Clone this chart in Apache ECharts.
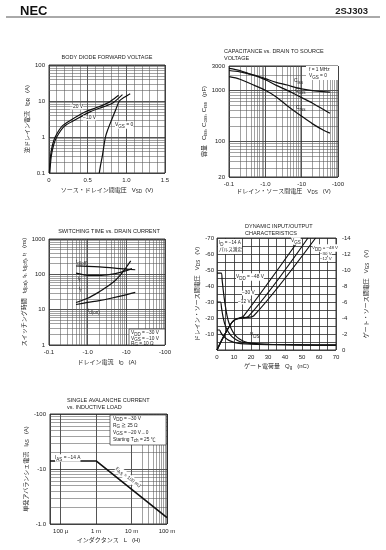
<!DOCTYPE html>
<html><head><meta charset="utf-8">
<script src="https://cdn.jsdelivr.net/npm/echarts@6/dist/echarts.min.js"></script>
<style>html,body{margin:0;padding:0;background:#fff}#c{width:386px;height:550px}</style>
</head><body><div id="c"></div>
<script>
// ---------- DATA ----------
// 1) Body diode forward voltage: [V_SD (V), I_DR (A)]
const diodeVgs20 = [[0.005,0.1],[0.02,0.3],[0.045,0.6],[0.08,1],[0.17,2],[0.29,3],[0.47,5],[0.6,6.4],[0.7,7.7],[0.78,9.3],[0.85,12],[0.9,14.5]];
const diodeVgs10 = [[0.01,0.1],[0.03,0.3],[0.06,0.6],[0.1,1],[0.2,2],[0.34,3],[0.53,5],[0.65,6.3],[0.75,7.5],[0.83,9],[0.9,12],[0.95,15]];
const diodeVgs0  = [[0.65,0.1],[0.67,0.18],[0.69,0.3],[0.73,1],[0.76,1.6],[0.81,3],[0.86,5.5],[0.91,10],[0.98,13],[1.05,16]];
const diodeXTicks = [0, 0.5, 1.0, 1.5];
// 2) Capacitance: [|V_DS| (V), C (pF)]
const capCiss = [[0.1,2450],[0.2,2300],[0.4,2050],[0.7,1850],[1,1700],[2,1430],[4,1270],[7,1130],[10,1070],[20,990],[40,940],[60,920]];
const capCoss = [[0.1,2700],[0.2,2450],[0.4,2050],[0.7,1800],[1,1620],[2,1250],[4,1000],[7,820],[10,720],[20,560],[40,420],[60,355]];
const capCrss = [[0.1,1850],[0.2,1650],[0.5,1250],[1,1000],[2,740],[4,500],[10,310],[20,220],[40,165],[60,145]];
// 3) Switching time: [|I_D| (A), t (ns)]
const swTdoff = [[0.5,172],[1,168],[2,162],[5,150],[10,140],[17,135]];
const swTf    = [[0.5,108],[0.8,97],[1.2,93],[2,93],[4,100],[7,113],[10,127],[14,145]];
const swTr    = [[0.5,16],[1,21],[2,32],[3,43],[5,65],[7,95],[9,135],[11,185],[13,240]];
const swTdon  = [[0.5,14],[1,16],[2,18],[4,21],[8,25],[17,31]];
// 4) Dynamic input/output: [Qg (nC), |V| (V)]
const vds48 = [[0,48],[2.5,48],[3,44],[3.6,38],[4.3,32],[5,27],[6,21],[7,17],[8.5,13],[10.5,9.5],[13,7],[16,5.3],[20,4.3],[30,3.6],[50,3.2],[70,3]];
const vds30 = [[0,30],[2,30],[2.7,26],[3.5,21],[4.5,16.5],[6,12.5],[8,9.3],[10,7.3],[13,5.5],[17,4.4],[22,3.8],[30,3.5],[50,3.2],[70,3]];
const vds12 = [[0,12.5],[1.5,12.5],[2.2,11],[3.5,9],[5,7.5],[7,6],[10,4.8],[14,4],[20,3.6],[30,3.4],[50,3.2],[70,3]];
const vgs12 = [[0,0],[3,1.3],[6,2.5],[9,3.5],[11,3.85],[13,4.0],[15.5,4.2],[49,14]];
const vgs30 = [[0,0],[3,1.3],[6,2.5],[9,3.5],[11,3.85],[14,4.0],[18.5,4.2],[53.5,14]];
const vgs48 = [[0,0],[3,1.3],[6,2.5],[9,3.5],[11,3.85],[17,4.05],[21.5,4.25],[58,14]];
// 5) Single avalanche current: [L (H), |I_AS| (A)]
const avalanche = [[5e-5,14],[1e-3,14],[0.1,1.3]];
const avalXTickText = {'-4':'100 µ','-3':'1 m','-2':'10 m','-1':'100 m'};

// ---------- STYLE ----------
const FONT = "'Liberation Sans','Noto Sans CJK JP',sans-serif";
const TXT = '#222';
const MINOR = {color:'#555', width:0.55};
const MAJOR = {color:'#2a2a2a', width:0.8};
const clean = v => parseFloat((+v).toPrecision(6));
const subRich = {s:{fontSize:4.5, fontFamily:FONT, color:TXT, verticalAlign:'bottom', padding:[3,0,0,0]}};

function minorLog(a,b){const o=[];for(let d=Math.floor(Math.log10(a))-1;d<=Math.ceil(Math.log10(b));d++){for(let k=2;k<=9;k++){const v=k*Math.pow(10,d);if(v>a*1.0001&&v<b*0.9999)o.push(v);}}return o;}

const grids = [
  {left:49, top:65, width:116, height:108},
  {left:229, top:66, width:109, height:111},
  {left:49, top:239, width:116, height:106},
  {left:217, top:238, width:119, height:112},
  {left:50, top:414, width:117, height:110}
].map(g=>Object.assign({show:true, borderColor:'#222', borderWidth:0.9, backgroundColor:'transparent'},g));

const lbl = (extra)=>Object.assign({fontSize:6, color:TXT, fontFamily:FONT, margin:4},extra||{});
const nameStyle = {fontSize:6, color:TXT, fontFamily:FONT, rich:subRich};
const baseAxis = {axisTick:{show:false}, axisLine:{show:false}, splitLine:{show:true, lineStyle:MAJOR}};

const xAxis = [
  Object.assign({}, baseAxis, {type:'value', gridIndex:0, min:0, max:1.5, interval:0.5,
    minorTick:{show:false, splitNumber:5}, minorSplitLine:{show:true, lineStyle:MINOR},
    axisLabel:lbl({formatter:v=>{v=clean(v);return diodeXTicks.includes(v)?(v===0?'0':v.toFixed(1)):'';}}),
    name:'ソース・ドレイン間電圧   V{s|SD}  (V)', nameLocation:'middle', nameGap:14, nameTextStyle:nameStyle}),
  Object.assign({}, baseAxis, {type:'log', logBase:10, gridIndex:1, min:0.1, max:100,
    axisLabel:lbl({formatter:v=>{v=clean(v);return '-'+(v===1?'1.0':v);}}),
    name:'ドレイン・ソース間電圧   V{s|DS}   (V)', nameLocation:'middle', nameGap:11, nameTextStyle:nameStyle}),
  Object.assign({}, baseAxis, {type:'log', logBase:10, gridIndex:2, min:0.1, max:100,
    axisLabel:lbl({formatter:v=>{v=clean(v);return '-'+(v===1?'1.0':v);}}),
    name:'ドレイン電流   I{s|D}   (A)', nameLocation:'middle', nameGap:14, nameTextStyle:nameStyle}),
  Object.assign({}, baseAxis, {type:'value', gridIndex:3, min:0, max:70, interval:10,
    minorTick:{show:false, splitNumber:2}, minorSplitLine:{show:true, lineStyle:MAJOR},
    axisLabel:lbl(),
    name:'ゲート電荷量   Q{s|g}   (nC)', nameLocation:'middle', nameGap:13, nameTextStyle:nameStyle}),
  Object.assign({}, baseAxis, {type:'log', logBase:10, gridIndex:4, min:5e-5, max:0.1,
    axisLabel:lbl({formatter:v=>{const e=Math.log10(v);return Math.abs(e-Math.round(e))<1e-6?(avalXTickText[String(Math.round(e))]||''):'';}}),
    name:'インダクタンス   L   (H)', nameLocation:'middle', nameGap:13, nameTextStyle:nameStyle})
];

const yAxis = [
  Object.assign({}, baseAxis, {type:'log', logBase:10, gridIndex:0, min:0.1, max:100,
    axisLabel:lbl({formatter:v=>String(clean(v))}),
    name:'逆ドレイン電流   I{s|DR}   (A)', nameLocation:'middle', nameRotate:90, nameGap:16, nameTextStyle:nameStyle}),
  Object.assign({}, baseAxis, {type:'log', logBase:10, gridIndex:1, min:20, max:3000,
    axisLabel:lbl({formatter:v=>String(Math.round(v))}),
    name:'容量   C{s|iss}, C{s|oss}, C{s|rss}   (pF)', nameLocation:'middle', nameRotate:90, nameGap:21, nameTextStyle:nameStyle}),
  Object.assign({}, baseAxis, {type:'log', logBase:10, gridIndex:2, min:1, max:1000,
    axisLabel:lbl({formatter:v=>String(Math.round(v))}),
    name:'スイッチング時間   t{s|d(on)}, t{s|r}, t{s|d(off)}, t{s|f}   (ns)', nameLocation:'middle', nameRotate:90, nameGap:16, nameTextStyle:nameStyle}),
  Object.assign({}, baseAxis, {type:'value', gridIndex:3, min:0, max:70, interval:10,
    minorTick:{show:false, splitNumber:2}, minorSplitLine:{show:true, lineStyle:MAJOR},
    axisLabel:lbl({showMinLabel:false, margin:3, formatter:v=>v===0?'':'-'+v}),
    name:'ドレイン・ソース間電圧   V{s|DS}   (V)', nameLocation:'middle', nameRotate:90, nameGap:12, nameTextStyle:nameStyle}),
  Object.assign({}, baseAxis, {type:'value', gridIndex:3, position:'right', min:0, max:14, interval:2,
    splitLine:{show:false},
    axisLabel:lbl({margin:6, formatter:v=>v===0?'0':'-'+v}),
    name:'ゲート・ソース間電圧   V{s|GS}   (V)', nameLocation:'middle', nameRotate:90, nameGap:27, nameTextStyle:nameStyle}),
  Object.assign({}, baseAxis, {type:'log', logBase:10, gridIndex:4, min:1, max:100,
    axisLabel:lbl({formatter:v=>{v=Math.round(v);return v===1?'-1.0':'-'+v;}}),
    name:'単発アバランシェ電流   I{s|AS}   (A)', nameLocation:'middle', nameRotate:90, nameGap:17, nameTextStyle:nameStyle})
];

function gridLines(xi, yi, xs, ys){
  const d=[];xs.forEach(v=>d.push({xAxis:v}));ys.forEach(v=>d.push({yAxis:v}));
  return {type:'line', xAxisIndex:xi, yAxisIndex:yi, data:[], silent:true, animation:false,
    markLine:{silent:true, symbol:'none', z:1, animation:false, label:{show:false}, lineStyle:Object.assign({type:'solid'},MINOR), emphasis:{disabled:true}, data:d}};
}
function curve(data, xi, yi){
  return {type:'line', data, xAxisIndex:xi, yAxisIndex:yi, symbol:'none', smooth:0.3, silent:true, animation:false, z:3,
    lineStyle:{color:'#111', width:1.2}};
}

const series = [
  gridLines(0,0,[],minorLog(0.1,100)),
  gridLines(1,1,minorLog(0.1,100),minorLog(20,3000)),
  gridLines(2,2,minorLog(0.1,100),minorLog(1,1000)),
  gridLines(4,5,minorLog(5e-5,0.1),minorLog(1,100)),
  curve(diodeVgs20,0,0), curve(diodeVgs10,0,0), curve(diodeVgs0,0,0),
  curve(capCiss,1,1), curve(capCoss,1,1), curve(capCrss,1,1),
  curve(swTdoff,2,2), curve(swTf,2,2), curve(swTr,2,2), curve(swTdon,2,2),
  curve(vds48,3,3), curve(vds30,3,3), curve(vds12,3,3),
  curve(vgs12,3,4), curve(vgs30,3,4), curve(vgs48,3,4),
  Object.assign(curve(avalanche,4,5),{smooth:false, lineStyle:{color:'#111', width:1.6}})
];

function T(x,y,text,o){
  o=o||{};
  return {type:'text', x, y, z:10, rotation:o.rot||0, silent:true,
    style:Object.assign({text, fontSize:o.fs||5.5, fontFamily:FONT, fontWeight:o.fw||'normal', fill:o.fill||TXT,
      align:o.align||'left', verticalAlign:'middle', rich:subRich,
      backgroundColor:o.bg||null, padding:o.pad||0}, o.style||{})};
}
function R(x,y,w,h,o){o=o||{};return {type:'rect', z:9, silent:true, shape:{x,y,width:w,height:h}, style:{fill:'#fff', stroke:o.stroke||null, lineWidth:0.7}};}

const graphic = [
  T(20,11,'NEC',{fs:13,fw:'bold',style:{fill:'#111'}}),
  T(368,11,'2SJ303',{fs:9.5,fw:'bold',align:'right'}),
  {type:'line', silent:true, shape:{x1:6,y1:17,x2:380,y2:17}, style:{stroke:'#555', lineWidth:1}},
  // titles
  T(107,57,'BODY DIODE FORWARD VOLTAGE',{align:'center'}),
  T(224,51,'CAPACITANCE vs. DRAIN TO SOURCE'),
  T(224,58,'VOLTAGE'),
  T(109,231,'SWITCHING TIME vs. DRAIN CURRENT',{align:'center'}),
  T(245,226,'DYNAMIC INPUT/OUTPUT'),
  T(245,233,'CHARACTERISTICS'),
  T(67,400,'SINGLE AVALANCHE CURRENT'),
  T(67,407,'vs. INDUCTIVE LOAD'),
  // chart 1 labels
  T(70,107,'−20 V',{bg:'#fff',fs:5}),
  T(83,118,'−10 V',{bg:'#fff',fs:5}),
  T(115,125,'V{s|GS} = 0',{bg:'#fff',fs:5}),
  // chart 2
  R(306,66,32,14),
  T(309,70,'f = 1 MHz',{fs:4.8}),
  T(309,76,'V{s|GS} = 0',{fs:4.8}),
  T(294,81,'C{s|iss}',{fs:5}),
  T(295,91,'C{s|oss}',{fs:5}),
  T(296,108,'C{s|rss}',{fs:5}),
  // chart 3
  T(76,262,'t{s|d(off)}',{fs:4.5}),
  T(78,279,'t{s|f}',{fs:4.5}),
  T(79,289,'t{s|r}',{fs:4.5}),
  T(88,311,'t{s|d(on)}',{fs:4.5}),
  R(129,329,36,16,{stroke:'#333'}),
  T(131,333,'V{s|DD} = −30 V',{fs:4.8}),
  T(131,338.5,'V{s|GS} = −10 V',{fs:4.8}),
  T(131,343.5,'R{s|G} = 10 Ω',{fs:4.8}),
  // chart 4
  R(218,239,24,15),
  T(219,243,'I{s|D} = −14 A',{fs:4.6}),
  T(219,249.5,'パルス測定',{fs:4.6}),
  T(291,241,'V{s|GS}',{fs:4.8,bg:'#fff'}),
  T(312,248,'V{s|DD} = −48 V',{fs:4.4,bg:'#fff'}),
  T(320,253.5,'−30 V',{fs:4.4,bg:'#fff'}),
  T(320,259,'−12 V',{fs:4.4,bg:'#fff'}),
  T(236,277,'V{s|DD} = −48 V',{fs:4.8,bg:'#fff'}),
  T(242,293,'−30 V',{fs:4.8,bg:'#fff'}),
  T(238,302,'−12 V',{fs:4.8,bg:'#fff'}),
  T(250,335,'V{s|DS}',{fs:4.8}),
  // chart 5
  R(110,415,56,30,{stroke:'#333'}),
  T(113,418.5,'V{s|DD} = −30 V',{fs:4.8}),
  T(113,425.5,'R{s|G} ≧ 25 Ω',{fs:4.8}),
  T(113,432.5,'V{s|GS} = −20 V→0',{fs:4.8}),
  T(113,439.5,'Starting T{s|ch} = 25 ℃',{fs:4.8}),
  T(55,458,'I{s|AS} = −14 A',{fs:4.8,bg:'#fff'}),
  T(116,468,'E{s|AS} = 100 mJ',{fs:4.8,bg:'#fff',rot:-0.66})
];

const chart = echarts.init(document.getElementById('c'), null, {renderer:'canvas'});
chart.setOption({animation:false, backgroundColor:'#fff', grid:grids, xAxis, yAxis, series, graphic});
</script>
</body></html>
